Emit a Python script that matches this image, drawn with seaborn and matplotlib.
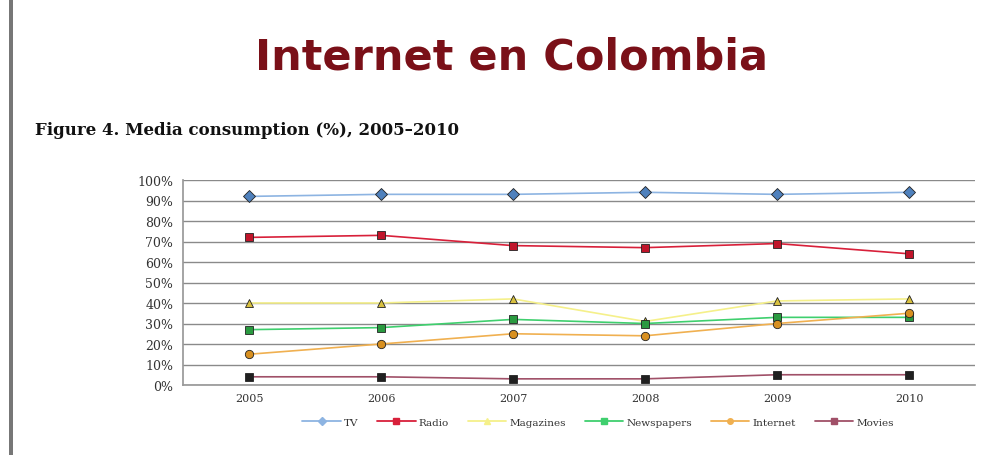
import matplotlib
matplotlib.use("Agg")
import matplotlib.pyplot as plt
import seaborn as sns
import pandas as pd
import numpy as np
from matplotlib.ticker import FuncFormatter, MultipleLocator, FixedLocator
from matplotlib.lines import Line2D

years = ["2005", "2006", "2007", "2008", "2009", "2010"]
tv = [92, 93, 93, 94, 93, 94]
radio = [72, 73, 68, 67, 69, 64]
magazines = [40, 40, 42, 31, 41, 42]
newspapers = [27, 28, 32, 30, 33, 33]
internet = [15, 20, 25, 24, 30, 35]
movies = [4, 4, 3, 3, 5, 5]

series_names = ["TV", "Radio", "Magazines", "Newspapers", "Internet", "Movies"]
series_vals = [tv, radio, magazines, newspapers, internet, movies]
colors = ["#8db4e2", "#d8203a", "#f5f08a", "#3fcf6e", "#f0b050", "#a05068"]
markers = ["D", "s", "^", "s", "o", "s"]
mfc = ["#4f81bd", "#c0142a", "#d8c040", "#2a9a40", "#d89020", "#202020"]

rows = []
for name, vals in zip(series_names, series_vals):
    for i, v in enumerate(vals):
        rows.append({"x": i, "year": years[i], "series": name, "value": v})
df = pd.DataFrame(rows)

sns.set_theme(style="white")
plt.rcParams["font.family"] = ["DejaVu Serif"]

fig = plt.figure(figsize=(9.96, 4.56), dpi=100)
ax = fig.add_axes([183/996, 1-386/456, (975-183)/996, (386-181)/456])

sns.lineplot(data=df, x="x", y="value", hue="series", style="series",
             hue_order=series_names, style_order=series_names,
             palette=dict(zip(series_names, colors)),
             markers=dict(zip(series_names, markers)), dashes=False,
             markersize=6, linewidth=1.2, ax=ax, legend=False)

for line, fc in zip(ax.get_lines(), mfc):
    line.set_markerfacecolor(fc)
    line.set_markeredgecolor("#222222")
    line.set_markeredgewidth(0.6)

ax.set_xlim(-0.5, 5.5)
ax.set_ylim(0, 100)
ax.yaxis.set_major_locator(MultipleLocator(10))
ax.yaxis.set_major_formatter(FuncFormatter(lambda v, p: f"{int(v)}%"))
ax.set_xticks(range(len(years)))
ax.set_xticklabels(years)
ax.xaxis.set_minor_locator(FixedLocator(np.arange(-0.5, 6.0, 1.0)))
ax.tick_params(axis="x", which="major", length=0, labelsize=8, pad=6, labelcolor="#333333")
ax.tick_params(axis="x", which="minor", length=3, color="#888888", direction="out")
ax.tick_params(axis="y", labelsize=9, length=3, color="#888888", pad=4, labelcolor="#333333")
ax.grid(axis="y", color="#8a8a8a", linewidth=1.0)
ax.set_axisbelow(True)
for s in ["top", "right"]:
    ax.spines[s].set_visible(False)
ax.spines["left"].set_color("#999999")
ax.spines["bottom"].set_color("#999999")
ax.set_xlabel("")
ax.set_ylabel("")

handles = [Line2D([0], [0], color=c, marker=m, markerfacecolor=c, markeredgecolor=c,
                  markersize=4, linewidth=1.3)
           for c, m in zip(colors, markers)]
fig.legend(handles, series_names, loc="center", bbox_to_anchor=(598/996, 1-423/456),
           ncol=6, frameon=False, fontsize=7.5, handlelength=3.7, columnspacing=1.8,
           handletextpad=0.3, labelcolor="#333333")

fig.text(511/996, 1-58/456, "Internet en Colombia", ha="center", va="center",
         fontsize=31, fontweight="bold", color="#7a1018", family=["DejaVu Sans"])
fig.text(35/996, 1-131/456, "Figure 4. Media consumption (%), 2005\u20132010", ha="left",
         va="center", fontsize=12, fontweight="bold", color="#111111")

fig.add_artist(plt.Rectangle((9/996, 0), 4/996, 1, transform=fig.transFigure,
                             color="#777777", lw=0))

fig.savefig("out.png", dpi=100)
